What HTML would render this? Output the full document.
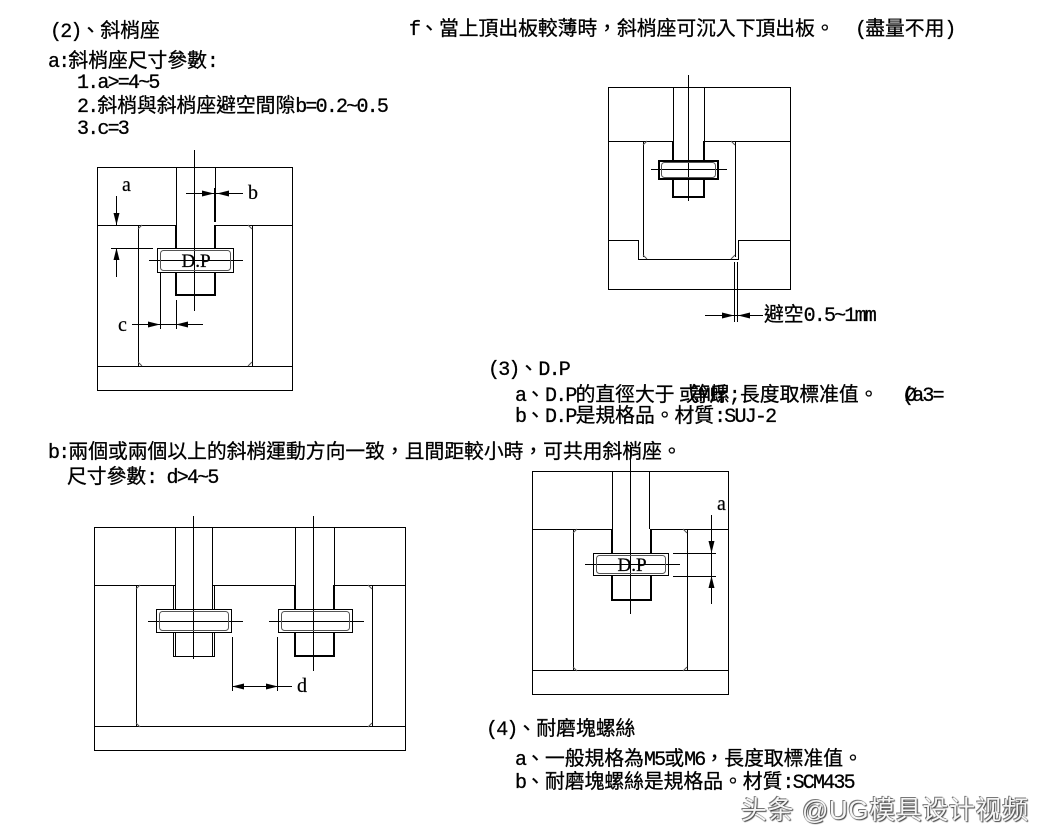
<!DOCTYPE html>
<html><head><meta charset="utf-8">
<style>
html,body{margin:0;padding:0;background:#fff;}
body{width:1057px;height:839px;position:relative;overflow:hidden;}
.t{position:absolute;white-space:pre;font-family:"Liberation Mono","Noto Sans CJK TC",monospace;font-size:19.8px;letter-spacing:0;line-height:20px;color:#000;-webkit-text-stroke:0.3px #000;}
.l{font-family:"Liberation Mono",monospace;font-size:20px;letter-spacing:-1.8px;}
.lb{position:absolute;white-space:pre;font-family:"Liberation Serif",serif;font-size:20px;line-height:20px;color:#000;-webkit-text-stroke:0.2px #000;}
.wm{position:absolute;white-space:pre;font-family:"Liberation Sans","Noto Sans CJK SC",sans-serif;font-size:26px;letter-spacing:0.6px;line-height:28px;color:#f6f6f6;text-shadow:1px 1px 1px #444,-1px -1px 0 #777,0 0 1px #222;}
svg{position:absolute;left:0;top:0;}
</style></head><body>
<svg width="1057" height="839" viewBox="0 0 1057 839" xmlns="http://www.w3.org/2000/svg">
<g fill="none" stroke="#000" stroke-width="1" shape-rendering="crispEdges">
<!-- Diagram 1 -->
<rect x="97.5" y="167.5" width="195" height="223"/>
<line x1="97" y1="225.5" x2="176" y2="225.5"/>
<line x1="215" y1="225.5" x2="293" y2="225.5"/>
<line x1="97" y1="366.5" x2="293" y2="366.5"/>
<line x1="138.5" y1="225" x2="138.5" y2="366"/>
<line x1="252.5" y1="225" x2="252.5" y2="366"/>
<line x1="176.5" y1="167" x2="176.5" y2="225"/>
<line x1="215.5" y1="167" x2="215.5" y2="188"/>
<g stroke-width="2">
<line x1="176" y1="225" x2="176" y2="248"/>
<line x1="176" y1="273" x2="176" y2="296"/>
<line x1="215" y1="188" x2="215" y2="222"/>
<line x1="215" y1="225" x2="215" y2="248"/>
<line x1="215" y1="273" x2="215" y2="296"/>
<line x1="176" y1="295" x2="216" y2="295"/>
</g>
<rect x="157.5" y="248.5" width="76" height="24" fill="#fff"/>
<line x1="194.5" y1="150" x2="194.5" y2="311"/>
<line x1="149" y1="260.5" x2="243" y2="260.5"/>
<line x1="116.5" y1="196" x2="116.5" y2="225"/>
<line x1="116.5" y1="248" x2="116.5" y2="277"/>
<line x1="111" y1="248.5" x2="153" y2="248.5"/>
<line x1="186" y1="193.5" x2="243" y2="193.5"/>
<line x1="132" y1="324.5" x2="203" y2="324.5"/>
<line x1="160.5" y1="273" x2="160.5" y2="329"/>
<line x1="176.5" y1="300" x2="176.5" y2="329"/>

<!-- Diagram 2 -->
<rect x="608.5" y="87.5" width="182" height="202"/>
<line x1="608" y1="141.5" x2="673" y2="141.5"/>
<line x1="704" y1="141.5" x2="791" y2="141.5"/>
<line x1="608" y1="240.5" x2="638" y2="240.5"/>
<line x1="738" y1="240.5" x2="791" y2="240.5"/>
<line x1="638.5" y1="240" x2="638.5" y2="259"/>
<line x1="738.5" y1="240" x2="738.5" y2="259"/>
<line x1="638" y1="259.5" x2="739" y2="259.5"/>
<line x1="643.5" y1="141" x2="643.5" y2="257"/>
<line x1="735.5" y1="141" x2="735.5" y2="257"/>
<line x1="673.5" y1="87" x2="673.5" y2="141"/>
<line x1="704.5" y1="87" x2="704.5" y2="141"/>
<g stroke-width="2">
<line x1="673" y1="141" x2="673" y2="160"/>
<line x1="673" y1="179" x2="673" y2="198"/>
<line x1="704" y1="141" x2="704" y2="160"/>
<line x1="704" y1="179" x2="704" y2="198"/>
<line x1="673" y1="197" x2="705" y2="197"/>
<rect x="659" y="161" width="59" height="18" fill="#fff"/>
</g>
<line x1="688.5" y1="75" x2="688.5" y2="201"/>
<line x1="651" y1="169.5" x2="727" y2="169.5"/>
<line x1="734.5" y1="262" x2="734.5" y2="322"/>
<line x1="737.5" y1="262" x2="737.5" y2="322"/>
<line x1="705" y1="315.5" x2="763" y2="315.5"/>

<!-- Diagram 3 -->
<rect x="94.5" y="527.5" width="311" height="223"/>
<line x1="94" y1="585.5" x2="175" y2="585.5"/>
<line x1="212" y1="585.5" x2="295" y2="585.5"/>
<line x1="334" y1="585.5" x2="406" y2="585.5"/>
<line x1="94" y1="726.5" x2="406" y2="726.5"/>
<line x1="136.5" y1="585" x2="136.5" y2="727"/>
<line x1="372.5" y1="585" x2="372.5" y2="727"/>
<line x1="175.5" y1="527" x2="175.5" y2="656"/>
<line x1="212.5" y1="527" x2="212.5" y2="656"/>
<line x1="173.5" y1="585" x2="173.5" y2="656"/>
<line x1="214.5" y1="585" x2="214.5" y2="656"/>
<line x1="173" y1="656.5" x2="215" y2="656.5"/>
<line x1="295.5" y1="527" x2="295.5" y2="585"/>
<line x1="334.5" y1="527" x2="334.5" y2="585"/>
<g stroke-width="2">
<line x1="295" y1="585" x2="295" y2="657"/>
<line x1="334" y1="585" x2="334" y2="657"/>
<line x1="295" y1="656" x2="335" y2="656"/>
</g>
<rect x="156.5" y="609.5" width="75" height="23" fill="#fff"/>
<rect x="278.5" y="609.5" width="74" height="23" fill="#fff"/>
<line x1="193.5" y1="516" x2="193.5" y2="659"/>
<line x1="313.5" y1="516" x2="313.5" y2="671"/>
<line x1="148" y1="621.5" x2="243" y2="621.5"/>
<line x1="269" y1="621.5" x2="364" y2="621.5"/>
<line x1="232.5" y1="637" x2="232.5" y2="691"/>
<line x1="277.5" y1="637" x2="277.5" y2="691"/>
<line x1="232" y1="686.5" x2="292" y2="686.5"/>

<!-- Diagram 4 -->
<rect x="532.5" y="471.5" width="196" height="223"/>
<line x1="532" y1="529.5" x2="612" y2="529.5"/>
<line x1="650" y1="529.5" x2="729" y2="529.5"/>
<line x1="532" y1="670.5" x2="729" y2="670.5"/>
<line x1="573.5" y1="529" x2="573.5" y2="671"/>
<line x1="687.5" y1="529" x2="687.5" y2="671"/>
<line x1="612.5" y1="471" x2="612.5" y2="529"/>
<line x1="649.5" y1="471" x2="649.5" y2="529"/>
<g stroke-width="2">
<line x1="612" y1="529" x2="612" y2="601"/>
<line x1="651" y1="529" x2="651" y2="601"/>
<line x1="612" y1="600" x2="652" y2="600"/>
</g>
<rect x="593.5" y="553.5" width="75" height="22" fill="#fff"/>
<line x1="630.5" y1="445" x2="630.5" y2="614"/>
<line x1="585" y1="564.5" x2="680" y2="564.5"/>
<line x1="673" y1="553.5" x2="716" y2="553.5"/>
<line x1="673" y1="576.5" x2="716" y2="576.5"/>
<line x1="711.5" y1="515" x2="711.5" y2="604"/>
</g>

<g fill="none" stroke="#555" stroke-width="1">
<rect x="160.5" y="250.5" width="70" height="20" rx="3"/>
<rect x="661.5" y="162.5" width="54" height="15" rx="3"/>
<rect x="159.5" y="611.5" width="69" height="19" rx="3"/>
<rect x="281.5" y="611.5" width="68" height="19" rx="3"/>
<rect x="596.5" y="555.5" width="69" height="18" rx="3"/>
<path d="M138 229 L142 225 M252 229 L248 225 M138 362 L142 366 M252 362 L248 366"/>
<path d="M643 145 L647 141 M735 145 L731 141 M643 255 L647 259 M735 255 L731 259"/>
<path d="M136 589 L140 585 M372 589 L368 585 M136 723 L140 727 M372 723 L368 727"/>
<path d="M573 533 L577 529 M687 533 L683 529 M573 667 L577 671 M687 667 L683 671"/>
</g>

<g fill="#000" stroke="none">
<polygon points="113.5,213 119.5,213 116.5,225"/>
<polygon points="113.5,260 119.5,260 116.5,248"/>
<polygon points="202,190.5 202,196.5 214,193.5"/>
<polygon points="229,190.5 229,196.5 217,193.5"/>
<polygon points="148,321.5 148,327.5 160,324.5"/>
<polygon points="188,321.5 188,327.5 176,324.5"/>
<polygon points="722,312.5 722,318.5 734,315.5"/>
<polygon points="750,312.5 750,318.5 738,315.5"/>
<polygon points="244,683.5 244,689.5 232,686.5"/>
<polygon points="266,683.5 266,689.5 278,686.5"/>
<polygon points="708.5,541 714.5,541 711.5,553"/>
<polygon points="708.5,588 714.5,588 711.5,576"/>
</g>

<g font-family="Liberation Serif, serif" font-size="19" fill="#000" stroke="#000" stroke-width="0.3" text-anchor="middle">
<text x="196" y="267">D.P</text>
<text x="632" y="571">D.P</text>
</g>
</svg>

<div class="lb" style="left:122px;top:175px;">a</div>
<div class="lb" style="left:248px;top:183px;">b</div>
<div class="lb" style="left:118px;top:315px;">c</div>
<div class="lb" style="left:297px;top:676px;">d</div>
<div class="lb" style="left:717px;top:494px;">a</div>

<div class="t" style="left:50px;top:22px;"><span class="l">(2)</span>、斜梢座</div>
<div class="t" style="left:48px;top:52px;"><span class="l">a:</span>斜梢座尺寸參數<span class="l">:</span></div>
<div class="t" style="left:77px;top:73px;"><span class="l">1.a&gt;=4~5</span></div>
<div class="t" style="left:77px;top:97px;"><span class="l">2.</span>斜梢與斜梢座避空間隙<span class="l">b=0.2~0.5</span></div>
<div class="t" style="left:77px;top:119px;"><span class="l">3.c=3</span></div>

<div class="t" style="left:409px;top:20px;"><span class="l">f</span>、當上頂出板較薄時，斜梢座可沉入下頂出板。<span class="l">  (</span>盡量不用<span class="l">)</span></div>
<div class="t" style="left:764px;top:306px;">避空<span class="l">0.5~1mm</span></div>

<div class="t" style="left:488px;top:360px;"><span class="l">(3)</span>、<span class="l">D.P</span></div>
<div class="t" style="left:515px;top:386px;"><span class="l">a</span>、<span class="l">D.P</span>的直徑大于</div>
<div class="t" style="left:679px;top:386px;">或<span class="l">M</span>斤<span class="l">;</span></div>
<div class="t" style="left:690px;top:386px;">等螺</div>
<div class="t" style="left:740px;top:386px;">長度取標准值。</div>
<div class="t" style="left:902px;top:386px;"><span class="l">(a3=</span></div>
<div class="t" style="left:905px;top:386px;"><span class="l">Ø</span></div>
<div class="t" style="left:515px;top:407px;"><span class="l">b</span>、<span class="l">D.P</span>是規格品。材質<span class="l">:SUJ-2</span></div>

<div class="t" style="left:48px;top:443px;"><span class="l">b:</span>兩個或兩個以上的斜梢運動方向一致，且間距較小時，可共用斜梢座。</div>
<div class="t" style="left:67px;top:468px;">尺寸參數<span class="l">: d&gt;4~5</span></div>

<div class="t" style="left:486px;top:720px;"><span class="l">(4)</span>、耐磨塊螺絲</div>
<div class="t" style="left:515px;top:750px;"><span class="l">a</span>、一般規格為<span class="l">M5</span>或<span class="l">M6</span>，長度取標准值。</div>
<div class="t" style="left:515px;top:773px;"><span class="l">b</span>、耐磨塊螺絲是規格品。材質<span class="l">:SCM435</span></div>

<div class="wm" style="left:741px;top:796px;">头条 @UG模具设计视频</div>
</body></html>
